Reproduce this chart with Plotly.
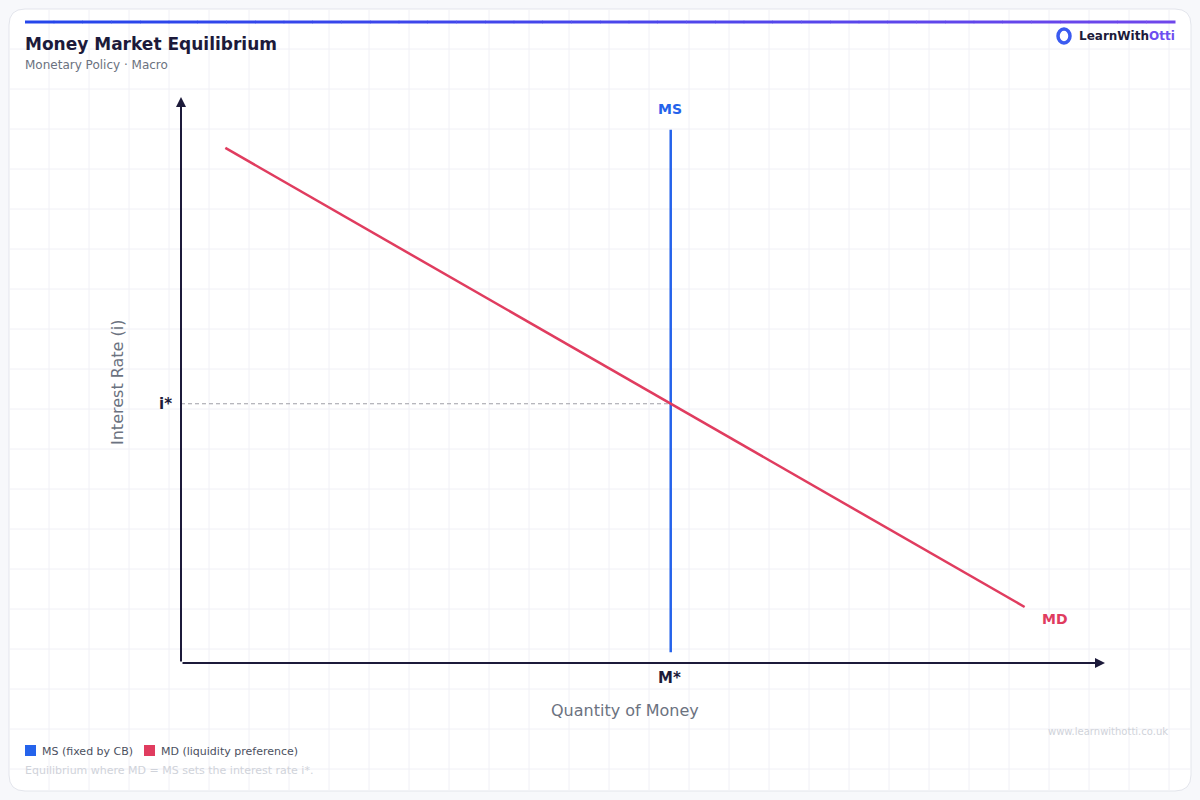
import plotly.graph_objects as go

# Data (economic units)
ms_q = 53.0
ms_i = [1.9, 94.2]
md_q = [4.8, 91.3]
md_i = [91.0, 9.9]
i_star = 45.8
legend_labels = ["MS (fixed by CB)", "MD (liquidity preference)"]

W, H = 1200, 800
BLUE = "#2563eb"
RED = "#e03c5f"
DARK = "#1c1a3a"
GRAY = "#6b7280"
FONT = "DejaVu Sans"

def px(x):
    return x / W

def py(y):
    return 1 - y / H

fig = go.Figure()
fig.add_trace(go.Scatter(x=[ms_q, ms_q], y=ms_i, mode="lines",
                         line=dict(color=BLUE, width=2.5), name=legend_labels[0], showlegend=False, hoverinfo="skip"))
fig.add_trace(go.Scatter(x=md_q, y=md_i, mode="lines",
                         line=dict(color=RED, width=2.5), name=legend_labels[1], showlegend=False, hoverinfo="skip"))
fig.add_trace(go.Scatter(x=[0, ms_q], y=[i_star, i_star], mode="lines",
                         line=dict(color="#a0a0a8", width=1.2, dash="4px,3px"), showlegend=False, hoverinfo="skip"))

shapes = []
x0, y0, x1, y1, r = 9, 9, 1191, 791, 16
path = (f"M {px(x0+r)} {py(y0)} L {px(x1-r)} {py(y0)} Q {px(x1)} {py(y0)} {px(x1)} {py(y0+r)} "
        f"L {px(x1)} {py(y1-r)} Q {px(x1)} {py(y1)} {px(x1-r)} {py(y1)} L {px(x0+r)} {py(y1)} "
        f"Q {px(x0)} {py(y1)} {px(x0)} {py(y1-r)} L {px(x0)} {py(y0+r)} Q {px(x0)} {py(y0)} {px(x0+r)} {py(y0)} Z")
shapes.append(dict(type="path", xref="paper", yref="paper", path=path,
                   fillcolor="white", line=dict(color="#e3e5ec", width=1), layer="below"))
for gx in range(49, 1191, 40):
    shapes.append(dict(type="line", xref="paper", yref="paper", x0=px(gx), x1=px(gx), y0=py(10), y1=py(790),
                       line=dict(color="#f0f0f6", width=1), layer="below"))
for gy in range(49, 791, 40):
    shapes.append(dict(type="line", xref="paper", yref="paper", x0=px(10), x1=px(1190), y0=py(gy), y1=py(gy),
                       line=dict(color="#f0f0f6", width=1), layer="below"))
n = 40
for k in range(n):
    t = k / (n - 1)
    c1 = (37, 70, 235); c2 = (110, 70, 235)
    col = "rgb(%d,%d,%d)" % tuple(int(a + (b - a) * t) for a, b in zip(c1, c2))
    xa = 25 + (1175 - 25) * k / n
    xb = 25 + (1175 - 25) * (k + 1) / n + 0.5
    shapes.append(dict(type="line", xref="paper", yref="paper", x0=px(xa), x1=px(xb), y0=py(22), y1=py(22),
                       line=dict(color=col, width=3)))
for lx, col in [(25, BLUE), (144, RED)]:
    shapes.append(dict(type="rect", xref="paper", yref="paper", x0=px(lx), x1=px(lx + 11), y0=py(745), y1=py(756),
                       fillcolor=col, line=dict(width=0)))
shapes.append(dict(type="circle", xref="paper", yref="paper", x0=px(1058), x1=px(1070), y0=py(29), y1=py(43),
                   fillcolor="white", line=dict(color="#3b5bf0", width=3.5)))

ann = []
ann.append(dict(x=0, y=100, ax=0, ay=0, xref="x", yref="y", axref="x", ayref="y", showarrow=True,
                arrowhead=2, arrowsize=1, arrowwidth=2, arrowcolor=DARK, text=""))
ann.append(dict(x=100, y=0, ax=0, ay=0, xref="x", yref="y", axref="x", ayref="y", showarrow=True,
                arrowhead=2, arrowsize=1, arrowwidth=2, arrowcolor=DARK, text=""))
ann.append(dict(x=ms_q, y=ms_i[1], xref="x", yref="y", yshift=21, xshift=-1, text="<b>MS</b>", showarrow=False,
                font=dict(color=BLUE, size=14, family=FONT)))
ann.append(dict(x=md_q[1], y=md_i[1], xref="x", yref="y", xshift=30, yshift=-12, text="<b>MD</b>", showarrow=False,
                font=dict(color=RED, size=14, family=FONT)))
ann.append(dict(x=0, y=i_star, xref="x", yref="y", xshift=-16, text="<b>i*</b>", showarrow=False,
                font=dict(color=DARK, size=15, family=FONT)))
ann.append(dict(x=ms_q, y=0, xref="x", yref="y", yshift=-15, xshift=-1, text="<b>M*</b>", showarrow=False,
                font=dict(color=DARK, size=15, family=FONT)))

def pann(x, y, text, size, color, xanchor="center", angle=0):
    shift = -2 if xanchor == "left" else (2 if xanchor == "right" else 0)
    ann.append(dict(x=px(x), y=py(y), xref="paper", yref="paper", xanchor=xanchor, yanchor="middle",
                    xshift=shift, text=text, textangle=angle, showarrow=False,
                    font=dict(color=color, size=size, family=FONT)))

pann(117, 383, "Interest Rate (i)", 16, GRAY, angle=-90)
pann(625, 710, "Quantity of Money", 16, GRAY)
pann(25, 44, "<b>Money Market Equilibrium</b>", 17, DARK, "left")
pann(25, 65, "Monetary Policy · Macro", 12, GRAY, "left")
pann(1079, 36, "<b>LearnWith<span style='color:#6d4ef0'>Otti</span></b>", 12, DARK, "left")
pann(42, 751, legend_labels[0], 11, "#4b5060", "left")
pann(161, 751, legend_labels[1], 11, "#4b5060", "left")
pann(25, 770, "Equilibrium where MD = MS sets the interest rate i*.", 11, "#d0d3da", "left")
pann(1168, 731, "www.learnwithotti.co.uk", 10, "#d0d3da", "right")

fig.update_layout(
    width=W, height=H, margin=dict(l=0, r=0, t=0, b=0),
    paper_bgcolor="#f7f8fb", plot_bgcolor="rgba(0,0,0,0)",
    xaxis=dict(domain=[181 / W, 1105 / W], range=[0, 100], visible=False, fixedrange=True),
    yaxis=dict(domain=[137 / H, 703 / H], range=[0, 100], visible=False, fixedrange=True),
    shapes=shapes, annotations=ann, showlegend=False, font=dict(family=FONT),
)
fig.write_html("out.html", config={"displayModeBar": False},
               post_script="document.body.style.margin='0';document.body.style.overflow='hidden';")
